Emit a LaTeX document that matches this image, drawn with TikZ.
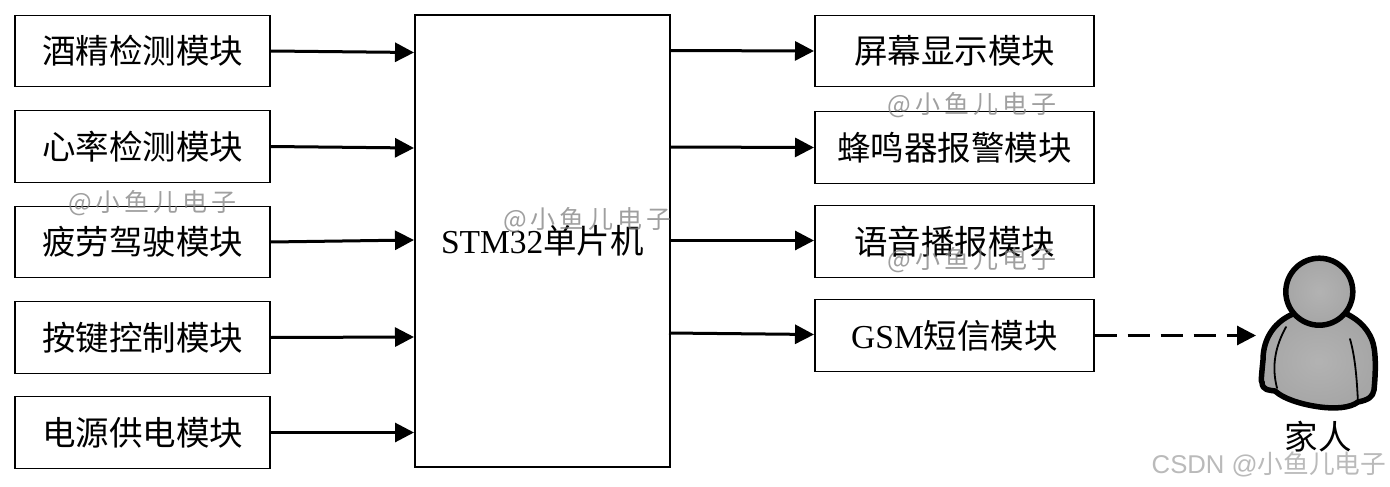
\documentclass[tikz,border=0pt]{standalone}
\usepackage{fontspec}
\setmainfont{Liberation Serif}
\newfontfamily\cjk{Noto Sans CJK SC}
\newfontfamily\wmfont[LetterSpace=16]{Noto Sans CJK SC}
\newfontfamily\csfont{Liberation Sans}
\usetikzlibrary{arrows.meta}
\tikzset{
  x=1pt,y=-1pt,
  modbox/.style={draw=black,line width=1.2pt,fill=white,inner sep=0pt,font=\fontsize{33.5}{36}\selectfont\cjk},
  leftbox/.style={modbox,minimum width=255pt,minimum height=71.5pt},
  rightbox/.style={modbox,minimum width=279pt,minimum height=71.5pt},
  link/.style={line width=3pt,-{Triangle[length=19pt,width=19pt]}},
  dashlink/.style={link,dash pattern=on 22pt off 11pt},
  watermark/.style={text=gray,opacity=.75,inner sep=0pt,font=\fontsize{25}{27}\selectfont\wmfont},
  personline/.style={draw=black,line width=5.5pt,line join=round},
  personfill/.style={inner color=black!30,outer color=black!35},
}
\begin{document}
\begin{tikzpicture}
\useasboundingbox (0,0) rectangle (1390,487);
% left modules
\node[leftbox] (a1) at (142.5,51) {酒精检测模块};
\node[leftbox] (a2) at (142.5,146.5) {心率检测模块};
\node[leftbox] (a3) at (142.5,242) {疲劳驾驶模块};
\node[leftbox] (a4) at (142.5,337.5) {按键控制模块};
\node[leftbox] (a5) at (142.5,432.5) {电源供电模块};
% controller
\node[modbox,minimum width=255pt,minimum height=452pt] (mcu) at (542.5,241) {{\rmfamily STM32}单片机};
% right modules
\node[rightbox] (b1) at (954.5,51) {屏幕显示模块};
\node[rightbox] (b2) at (954.5,147.5) {蜂鸣器报警模块};
\node[rightbox] (b3) at (954.5,241.5) {语音播报模块};
\node[rightbox] (b4) at (954.5,335.5) {{\rmfamily GSM}短信模块};
% connector ends on the controller's edges
\coordinate (i1) at (414,52.5);
\coordinate (i2) at (414,148);
\coordinate (i3) at (414,240);
\coordinate (i4) at (414,337);
\coordinate (i5) at (414,432.5);
\coordinate (o1) at (669,50.5);
\coordinate (o2) at (669,147);
\coordinate (o3) at (669,240.5);
\coordinate (o4) at (669,333);
\coordinate (t1) at (814,51);
\coordinate (t2) at (814,147.5);
\coordinate (t3) at (814,240.5);
\coordinate (t4) at (814,334.5);
\draw[link] (a1.east) -- (i1);
\draw[link] (a2.east) -- (i2);
\draw[link] (a3.east) -- (i3);
\draw[link] (a4.east) -- (i4);
\draw[link] (a5.east) -- (i5);
\draw[link] (o1) -- (t1);
\draw[link] (o2) -- (t2);
\draw[link] (o3) -- (t3);
\draw[link] (o4) -- (t4);
% person
\path[personline,personfill]
  (1293,314) .. controls (1276,321) and (1263,337) .. (1263,360)
  .. controls (1261,380) and (1261,382) .. (1262,382)
  .. controls (1262,391) and (1270,390) .. (1275,391)
  .. controls (1285,400) and (1305,405) .. (1320,407)
  .. controls (1335,409) and (1350,408) .. (1358,402)
  .. controls (1368,400) and (1373,397) .. (1374,390)
  .. controls (1376,370) and (1376,350) .. (1372,340)
  .. controls (1366,325) and (1355,318) .. (1345,313) -- cycle;
\draw[black,line width=1.8pt,line cap=round] (1286,327) .. controls (1276,345) and (1271,365) .. (1277,388);
\draw[black,line width=1.8pt,line cap=round] (1350,339) .. controls (1356,360) and (1357,385) .. (1358,402);
\path[personline,personfill] (1319.3,291.7) circle (33.5);
\coordinate (person) at (1256,335.5);
\draw[dashlink] (b4.east) -- (person);
\node[inner sep=0pt,font=\fontsize{33.5}{36}\selectfont\cjk] (family) at (1318,437) {家人};
% watermarks
\node[watermark] (w1) at (152.5,203) {@小鱼儿电子};
\node[watermark] (w2) at (587.5,220) {@小鱼儿电子};
\node[watermark] (w3) at (972,105) {@小鱼儿电子};
\node[watermark] (w4) at (972,260) {@小鱼儿电子};
\node[inner sep=0pt,text=black!30,opacity=.9,font=\fontsize{25.7}{27}\selectfont\csfont] (w5) at (1269,464) {CSDN @{\cjk 小鱼儿电子}};
\end{tikzpicture}
\end{document}
